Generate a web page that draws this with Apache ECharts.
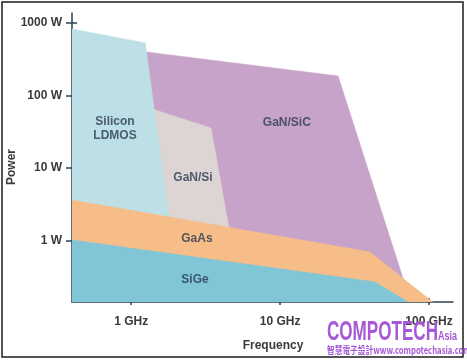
<!DOCTYPE html>
<html><head><meta charset="utf-8">
<script src="https://cdn.jsdelivr.net/npm/echarts@6/dist/echarts.min.js"></script>
<style>html,body{margin:0;padding:0;background:#fff}#c{width:467px;height:362px}</style>
</head><body><div id="c"></div>
<script>
// Axis ticks
const xTickValues = [1, 10, 100];
const xTickLabels = ['1 GHz', '10 GHz', '100 GHz'];
const yTickValues = [1, 10, 100, 1000];
const yTickLabels = ['1 W', '10 W', '100 W', '1000 W'];
// Regions: [frequency GHz, power W]
const ldmos  = [[0.4, 815], [1.24, 524], [1.88, 1], [0.4, 1]];
const ganSiC = [[1.256, 394], [24.5, 184], [71, 0.21], [1.5, 0.21]];
const ganSi  = [[1.38, 64.9], [3.43, 35.6], [4.7, 1], [1.5, 1]];
const gaAs   = [[0.4, 3.65], [40.1, 0.705], [106, 0.145], [0.4, 0.145]];
const siGe   = [[0.4, 1.03], [43.4, 0.273], [72.2, 0.145], [0.4, 0.145]];
// Region labels
const regionNames = ['Silicon\nLDMOS', 'GaN/Si', 'GaN/SiC', 'GaAs', 'SiGe'];
const labelPos = [[0.778, 34.5], [2.6, 7.32], [11.1, 41.7], [2.76, 1.06], [2.68, 0.291]];

const FONT = '"Liberation Sans", Arial, sans-serif';
const AXC = '#2e4254';
function lookup(vals, labels, v) {
  for (let i = 0; i < vals.length; i++) if (Math.abs(Math.log10(v) - Math.log10(vals[i])) < 0.01) return labels[i];
  return '';
}
function polySeries(name, pts, color) {
  return {
    type: 'custom', name: name, data: pts, clip: true, silent: true,
    encode: { x: 0, y: 1 },
    renderItem: function (params, api) {
      if (params.dataIndex !== 0) return null;
      const points = pts.map(p => api.coord(p));
      return { type: 'polygon', shape: { points: points }, style: { fill: color, stroke: color, lineWidth: 0.6 } };
    }
  };
}
const chart = echarts.init(document.getElementById('c'), null, { renderer: 'canvas' });
const xBase = { type: 'log', logBase: 10, min: 0.4, max: 145, position: 'bottom', splitLine: { show: false }, minorTick: { show: false } };
const yBase = { type: 'log', logBase: 10, min: 0.145, max: 1350, position: 'left', splitLine: { show: false }, minorTick: { show: false } };
chart.setOption({
  backgroundColor: '#ffffff',
  animation: false,
  grid: { left: 72, right: 14, top: 13, bottom: 60, containLabel: false, outerBoundsMode: 'none' },
  xAxis: [
    Object.assign({}, xBase, {
      axisLine: { show: true, lineStyle: { color: AXC, width: 1.5 } },
      axisTick: { show: true, length: 3, customValues: xTickValues, lineStyle: { color: AXC, width: 1.5 } },
      axisLabel: { customValues: xTickValues, margin: 14, formatter: v => lookup(xTickValues, xTickLabels, v),
        fontFamily: FONT, fontWeight: 'bold', fontSize: 12, color: '#3a3a3a' },
      name: 'Frequency', nameLocation: 'middle', nameGap: 38,
      nameTextStyle: { fontFamily: FONT, fontWeight: 'bold', fontSize: 12, color: '#3a3a3a', padding: [0, 0, 0, 21] }
    }),
    Object.assign({}, xBase, {
      axisLine: { show: false },
      axisTick: { show: true, inside: true, length: 4, customValues: xTickValues, lineStyle: { color: AXC, width: 1.5 } },
      axisLabel: { show: false }
    })
  ],
  yAxis: [
    Object.assign({}, yBase, {
      axisLine: { show: true, lineStyle: { color: AXC, width: 1.5 } },
      axisTick: { show: true, length: 6, customValues: yTickValues, lineStyle: { color: AXC, width: 1.5 } },
      axisLabel: { customValues: yTickValues, margin: 10, formatter: v => lookup(yTickValues, yTickLabels, v),
        fontFamily: FONT, fontWeight: 'bold', fontSize: 12, color: '#3a3a3a' }
    }),
    Object.assign({}, yBase, {
      axisLine: { show: false },
      axisTick: { show: true, inside: true, length: 5, customValues: yTickValues, lineStyle: { color: AXC, width: 1.5 } },
      axisLabel: { show: false }
    })
  ],
  series: [
    polySeries('GaN/SiC', ganSiC, '#c8a3c9'),
    polySeries('GaN/Si', ganSi, '#ddd4d4'),
    polySeries('Silicon LDMOS', ldmos, '#bde0e6'),
    polySeries('GaAs', gaAs, '#f7bd89'),
    polySeries('SiGe', siGe, '#80c6d6'),
    {
      type: 'scatter', silent: true, symbolSize: 1, itemStyle: { color: 'rgba(0,0,0,0)' },
      data: regionNames.map((n, i) => ({ name: n, value: labelPos[i] })),
      label: { show: true, position: 'inside', formatter: p => p.name, fontFamily: FONT, fontWeight: 'bold',
        fontSize: 12, lineHeight: 14, color: '#2b3a52', align: 'center', verticalAlign: 'middle' },
      z: 10
    }
  ],
  graphic: [
    { type: 'text', x: 12, y: 167, rotation: Math.PI / 2, z: 100,
      style: { text: 'Power', font: 'bold 12px "Liberation Sans"', fill: '#3a3a3a', align: 'center', verticalAlign: 'middle' } },
    { type: 'rect', shape: { x: 2, y: 2, width: 461, height: 355 }, style: { fill: 'none', stroke: '#1c1c1c', lineWidth: 1.5 }, z: 100 },
    { type: 'text', x: 327, y: 318, scaleX: 0.61, z: 100,
      style: { text: 'COMPOTECH', font: 'bold 28px "Liberation Sans"', fill: '#a658d6', textVerticalAlign: 'top' } },
    { type: 'text', x: 438, y: 331, scaleX: 0.75, z: 100,
      style: { text: 'Asia', font: 'bold 12px "Liberation Sans"', fill: '#a658d6', textVerticalAlign: 'top' } },
    { type: 'text', x: 327, y: 345, scaleX: 0.77, z: 100,
      style: { text: '智慧電子設計www.compotechasia.com', font: 'bold 10px "Noto Sans CJK TC"', fill: '#a658d6', textVerticalAlign: 'top' } }
  ]
});
</script></body></html>
